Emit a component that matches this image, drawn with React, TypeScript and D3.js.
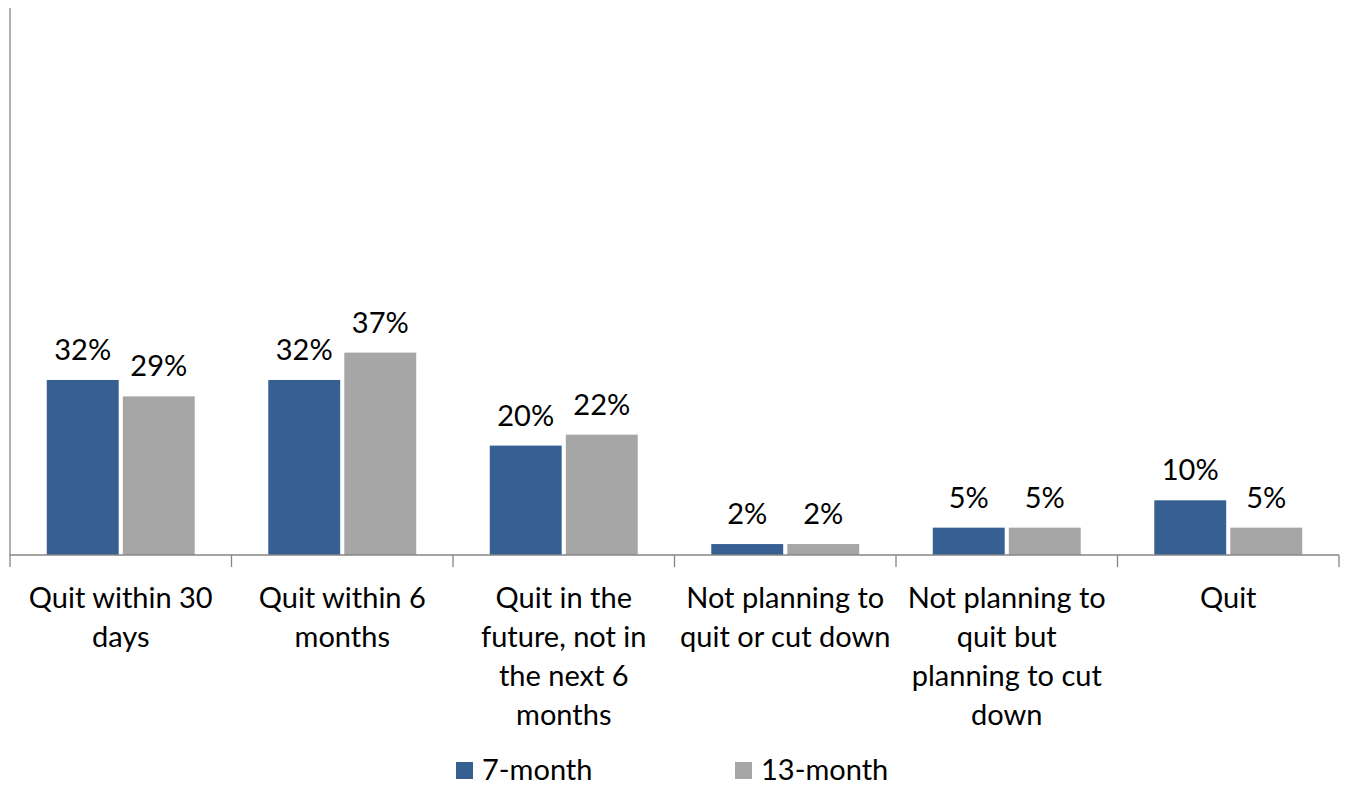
import React, { useEffect, useRef } from 'react';
import * as d3 from 'd3';

const categories = [
  ['Quit within 30', 'days'],
  ['Quit within 6', 'months'],
  ['Quit in the', 'future, not in', 'the next 6', 'months'],
  ['Not planning to', 'quit or cut down'],
  ['Not planning to', 'quit but', 'planning to cut', 'down'],
  ['Quit'],
];
const series = ['7-month', '13-month'];
const sevenMonth = [32, 32, 20, 2, 5, 10];
const thirteenMonth = [29, 37, 22, 2, 5, 5];
const colors = ['#366092', '#A6A6A6'];

const App: React.FC = () => {
  const svgRef = useRef<SVGSVGElement>(null);

  useEffect(() => {
    if (!svgRef.current) return;
    const svg = d3.select(svgRef.current);
    svg.selectAll('*').remove();

    const left = 10;
    const right = 1339;
    const top = 8;
    const bottom = 555;
    const font = 'Lato, "Open Sans", sans-serif';
    const fontSize = '29px';

    const ids = categories.map((_, i) => String(i));
    const x0 = d3.scaleBand().domain(ids).range([left, right]).padding(0);
    const bw = x0.bandwidth();
    const groupW = bw * 0.668;
    const x1 = d3.scaleBand()
      .domain(series)
      .range([(bw - groupW) / 2, (bw + groupW) / 2])
      .paddingInner(0.054);
    const y = d3.scaleLinear().domain([0, 100]).range([bottom, top]);

    const values = [sevenMonth, thirteenMonth];

    // bars + value labels
    series.forEach((s, si) => {
      svg.append('g')
        .selectAll('rect')
        .data(values[si])
        .join('rect')
        .attr('x', (_, i) => (x0(String(i)) as number) + (x1(s) as number))
        .attr('y', d => y(d))
        .attr('width', x1.bandwidth())
        .attr('height', d => bottom - y(d))
        .attr('fill', colors[si]);

      svg.append('g')
        .selectAll('text')
        .data(values[si])
        .join('text')
        .attr('x', (_, i) => (x0(String(i)) as number) + (x1(s) as number) + x1.bandwidth() / 2)
        .attr('y', d => y(d) - 20)
        .attr('text-anchor', 'middle')
        .style('font-family', font)
        .style('font-size', fontSize)
        .style('fill', '#000')
        .text(d => `${d}%`);
    });

    // axes
    const axisColor = '#868686';
    svg.append('line')
      .attr('x1', left).attr('x2', left)
      .attr('y1', top).attr('y2', bottom)
      .attr('stroke', axisColor).attr('stroke-width', 1.3);
    svg.append('line')
      .attr('x1', left).attr('x2', right)
      .attr('y1', bottom).attr('y2', bottom)
      .attr('stroke', axisColor).attr('stroke-width', 1.3);
    const tickXs = ids.map(id => x0(id) as number).concat([right]);
    svg.append('g')
      .selectAll('line')
      .data(tickXs)
      .join('line')
      .attr('x1', d => d).attr('x2', d => d)
      .attr('y1', bottom).attr('y2', bottom + 12)
      .attr('stroke', axisColor).attr('stroke-width', 1.3);

    // category labels
    const lab = svg.append('g')
      .selectAll('text')
      .data(categories)
      .join('text')
      .attr('text-anchor', 'middle')
      .style('font-family', font)
      .style('font-size', fontSize)
      .style('fill', '#000');
    lab.each(function (lines, i) {
      const t = d3.select(this);
      lines.forEach((ln, k) => {
        t.append('tspan')
          .attr('x', (x0(String(i)) as number) + bw / 2)
          .attr('y', 608 + k * 39)
          .text(ln);
      });
    });

    // legend
    const legX = [456, 735];
    series.forEach((s, si) => {
      svg.append('rect')
        .attr('x', legX[si]).attr('y', 762)
        .attr('width', 17).attr('height', 17)
        .attr('fill', colors[si]);
      svg.append('text')
        .attr('x', legX[si] + 26).attr('y', 780)
        .style('font-family', font)
        .style('font-size', fontSize)
        .style('fill', '#000')
        .text(s);
    });
  }, []);

  return (
    <svg ref={svgRef} width={1349} height={785}
      style={{ position: 'absolute', left: 0, top: 0, background: '#fff' }} />
  );
};

export default App;
